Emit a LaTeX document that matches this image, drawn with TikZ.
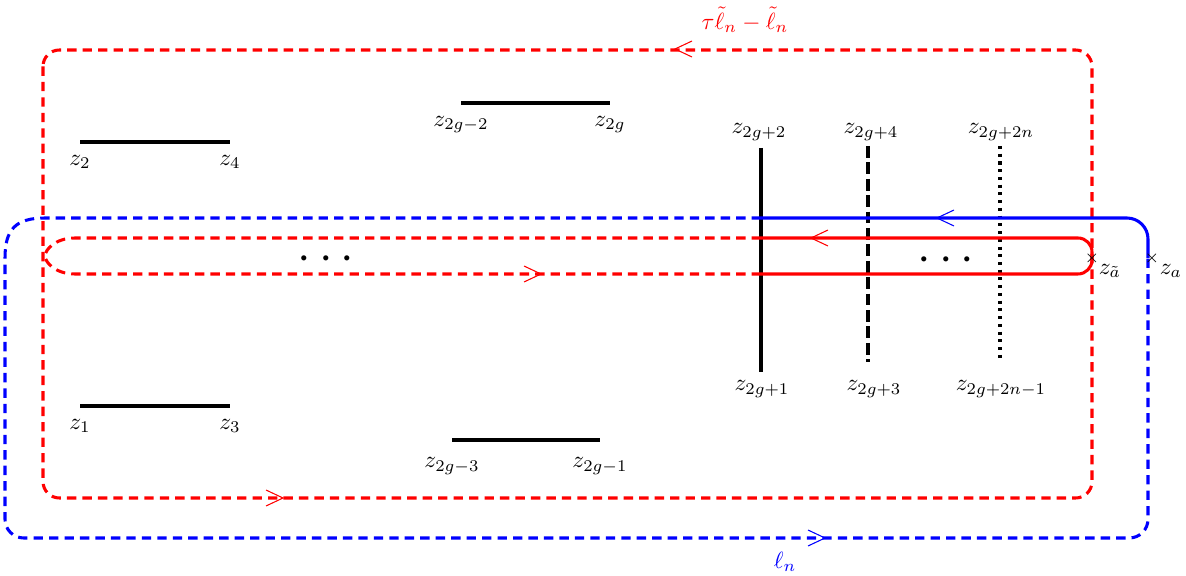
\documentclass[tikz,border=0pt]{standalone}
\usepackage{amsmath,amssymb}
\usepackage{xcolor}
\usepackage{tikz}
\usetikzlibrary{positioning}

\begin{document}
\begin{tikzpicture}[x=.015cm,y=-.015cm,font=\normalsize,
    slit/.style={line width=1.3pt},
    loopline/.style={line width=1.3pt},
    dashline/.style={dash pattern=on 4pt off 2.6pt},
    tip/.style={line width=.45pt}]
    \useasboundingbox (0,0) rectangle (1186,576);
    % slits
    \draw[slit] (80,142) coordinate (z2) -- (230,142) coordinate (z4);
    \draw[slit] (461,103) coordinate (z2gm2) -- (610,103) coordinate (z2g);
    \draw[slit] (80,406) coordinate (z1) -- (230,406) coordinate (z3);
    \draw[slit] (452,440) coordinate (z2gm3) -- (600,440) coordinate (z2gm1);
    \draw[slit] (761,148) coordinate (z2gp2) -- (761,372) coordinate (z2gp1);
    \draw[slit,dash pattern=on 5pt off 2pt] (868,146) coordinate (z2gp4) -- (868,362) coordinate (z2gp3);
    \draw[slit,dotted] (1000,146) coordinate (z2gpn) -- (1000,362) coordinate (z2gpnm);
    \foreach \c/\lab in {z2/{z_2},z4/{z_4},z2gm2/{z_{2g-2}},z2g/{z_{2g}},z1/{z_1},z3/{z_3}}{
      \node (l\c) [below=2pt of \c] {$\lab$};
    }
    \foreach \c/\lab in {z2gm3/{z_{2g-3}},z2gm1/{z_{2g-1}}}{
      \node (l\c) [below=4pt of \c] {$\lab$};
    }
    \foreach \c/\x/\lab in {z2gp2/759/{z_{2g+2}},z2gp4/871/{z_{2g+4}},z2gpn/1001/{z_{2g+2n}}}{
      \node (l\c) at (\x,132) {$\lab$};
    }
    \foreach \c/\x/\lab in {z2gp1/762/{z_{2g+1}},z2gp3/874/{z_{2g+3}},z2gpnm/1001/{z_{2g+2n-1}}}{
      \node (l\c) at (\x,389) {$\lab$};
    }
    % red loops
    \draw[red,loopline,dashline,rounded corners=7pt] (43,50) rectangle (1092,498);
    \draw[red,loopline,dashline] (761,238) -- (75,238) .. controls (55,238) and (45,250) .. (45,256)
      .. controls (45,262) and (55,274) .. (75,274) -- (761,274);
    \draw[red,loopline,rounded corners=6pt] (761,238) -- (1092,238) -- (1092,274) -- (761,274);
    % blue loop
    \draw[blue,loopline,dashline] (761,218) -- (45,218) .. controls (15,218) and (5,230) .. (5,258)
      [rounded corners=8pt] -- (5,538) -- (1148,538) -- (1148,258);
    \draw[blue,loopline,rounded corners=9pt] (761,218) -- (1148,218) -- (1148,258);
    % arrow heads
    \foreach \x/\y/\ax/\col in {675/49/692/red,283/498/266/red,811/238/828/red,541/274/524/red,937/218/954/blue,825/538/808/blue}{
      \draw[\col,tip] (\ax,\y-8) -- (\x,\y) -- (\ax,\y+8);
    }
    % branch points
    \node[font=\scriptsize,inner sep=0pt] (zat) at (1092,258) {$\times$};
    \node[font=\scriptsize,inner sep=0pt] (za) at (1152,258) {$\times$};
    \node[anchor=west,inner sep=1pt] (lzat) at (1096,271) {$z_{\tilde a}$};
    \node[anchor=west,inner sep=1pt] (lza) at (1157,271) {$z_a$};
    \node[font=\huge,inner sep=0pt] (ldots) at (330,260) {$\cdots$};
    \node[font=\huge,inner sep=0pt] (rdots) at (950,261) {$\cdots$};
    \node[red] (taulab) at (745,20) {$\tau\tilde{\ell}_n-\tilde{\ell}_n$};
    \node[blue] (elllab) at (785,562) {$\ell_n$};
  \end{tikzpicture}
\end{document}
